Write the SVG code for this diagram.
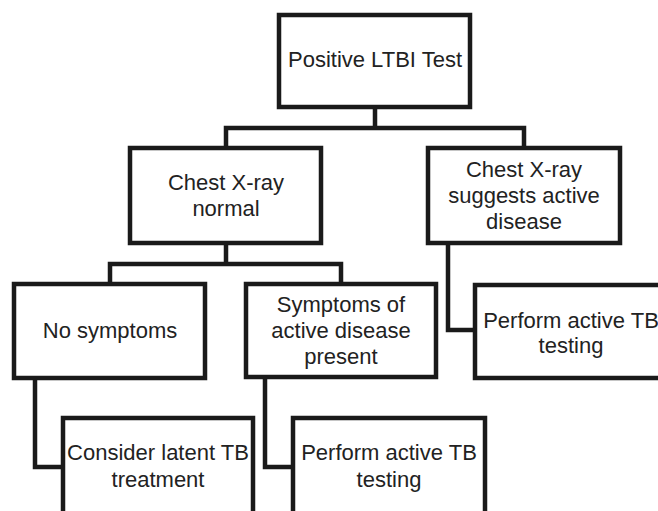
<svg xmlns="http://www.w3.org/2000/svg" width="658" height="511" viewBox="0 0 658 511">
<style>
.box{fill:#fff;stroke:#1a1a1a;stroke-width:4.5}
.ln{fill:none;stroke:#1a1a1a;stroke-width:4.5;stroke-linejoin:miter}
text{font-family:"Liberation Sans",Arial,sans-serif;font-size:22px;fill:#222;text-anchor:middle}
</style>
<rect width="658" height="511" fill="#fff"/>
<g id="connectors">
<path class="ln" d="M375 107V128M226 148V128H524V148"/>
<path class="ln" d="M226 244V264M110 284V264H341V284"/>
<path class="ln" d="M448 244V330H475"/>
<path class="ln" d="M35 378V467H63"/>
<path class="ln" d="M265 378V467H293"/>
</g>
<g id="n-positive"><rect class="box" x="279" y="15" width="191" height="92"/><text x="375" y="67">Positive LTBI Test</text></g>
<g id="n-normal"><rect class="box" x="130" y="148" width="191" height="95"/><text x="226" y="190">Chest X-ray</text><text x="226" y="216">normal</text></g>
<g id="n-suggests"><rect class="box" x="428" y="148" width="192" height="95"/><text x="524" y="177">Chest X-ray</text><text x="524" y="203">suggests active</text><text x="524" y="229">disease</text></g>
<g id="n-nosymptoms"><rect class="box" x="14" y="284" width="191" height="94"/><text x="110" y="338">No symptoms</text></g>
<g id="n-symptoms"><rect class="box" x="246" y="284" width="190" height="93"/><text x="341" y="312">Symptoms of</text><text x="341" y="338">active disease</text><text x="341" y="364">present</text></g>
<g id="n-testing-right"><rect class="box" x="475" y="285" width="192" height="93"/><text x="571" y="328">Perform active TB</text><text x="571" y="353">testing</text></g>
<g id="n-latent"><rect class="box" x="63" y="418" width="190" height="110"/><text x="158" y="460">Consider latent TB</text><text x="158" y="487">treatment</text></g>
<g id="n-testing-mid"><rect class="box" x="293" y="418" width="192" height="110"/><text x="389" y="460">Perform active TB</text><text x="389" y="487">testing</text></g>
</svg>
